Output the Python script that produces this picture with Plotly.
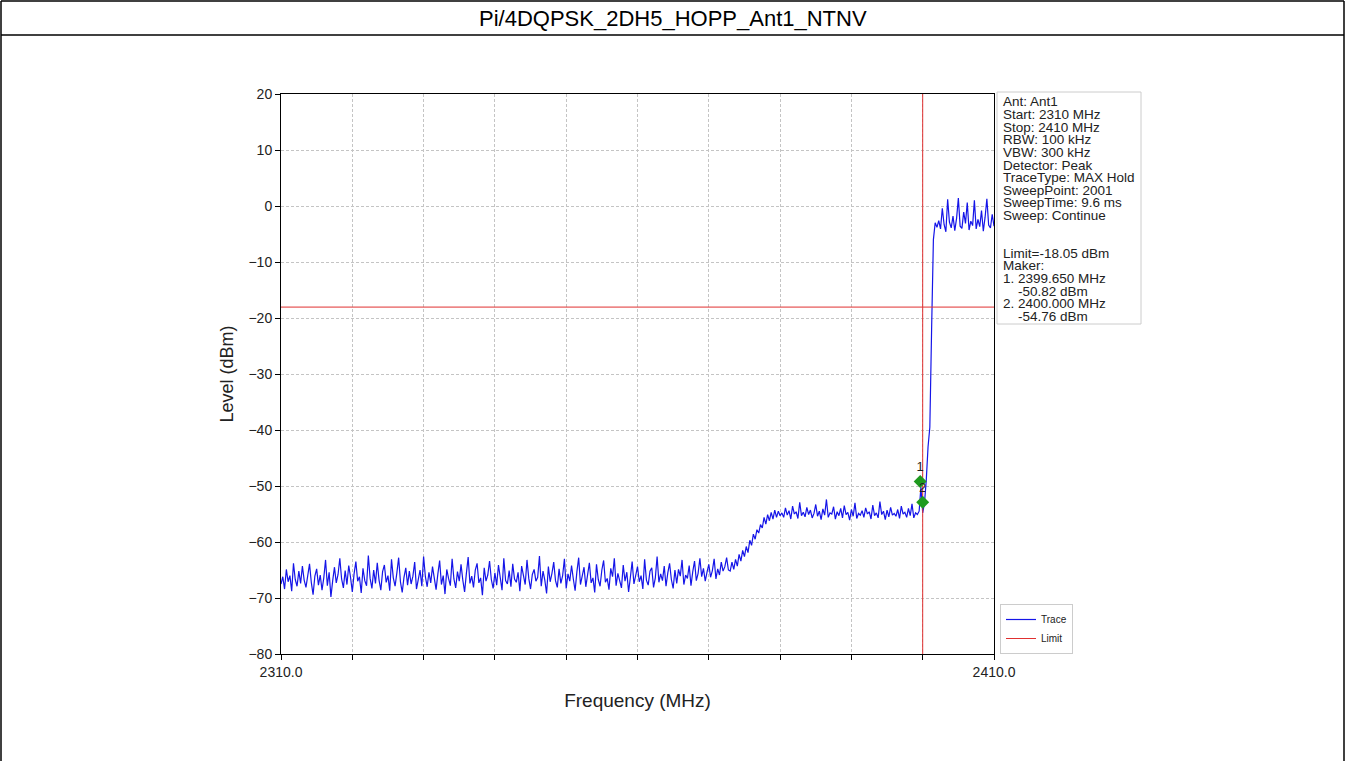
import numpy as np
import plotly.graph_objects as go

# ---------------- data ----------------
title_text = "Pi/4DQPSK_2DH5_HOPP_Ant1_NTNV"
f_start, f_stop = 2310.0, 2410.0
limit_dbm = -18.05
edge_freq = 2400.0

# segment A: 2310.00 - 2372.75 MHz (noise floor)
seg_a_level = [
    -67.5, -66.2, -68.4, -64.9, -67.1, -66.0, -68.8, -63.8, -66.7, -67.9, -65.2, -67.4,
    -64.3, -66.8, -68.1, -65.6, -63.9, -67.2, -69.4, -66.1, -64.8, -67.7, -65.9, -68.6,
    -66.4, -63.2, -67.8, -65.4, -69.8, -66.9, -64.5, -67.3, -65.8, -62.9, -66.6, -68.2,
    -65.1, -67.6, -64.2, -66.3, -68.9, -65.7, -63.5, -67.0, -66.2, -69.1, -64.7, -66.9,
    -67.8, -62.4, -66.5, -68.3, -65.0, -67.4, -63.7, -66.8, -68.6, -65.3, -64.1, -67.2,
    -66.0, -68.7, -63.1, -66.4, -67.9, -65.5, -62.8, -67.1, -69.0, -66.3, -64.6, -67.7,
    -65.2, -67.5, -66.1, -63.6, -68.4, -66.7, -65.0, -67.9, -62.6, -66.2, -68.0, -65.4,
    -67.3, -64.4, -66.9, -68.5, -65.7, -63.3, -67.6, -66.0, -69.3, -64.9, -66.5, -67.8,
    -63.0, -66.6, -68.2, -65.3, -67.0, -64.0, -66.8, -68.9, -65.6, -62.7, -67.4, -66.1,
    -68.1, -65.0, -63.8, -67.3, -66.4, -69.5, -64.6, -67.0, -65.9, -63.4, -66.7, -68.3,
    -65.5, -67.7, -64.1, -66.2, -68.6, -62.9, -66.9, -67.5, -65.1, -68.0, -63.9, -66.6,
    -67.2, -65.4, -68.8, -64.3, -66.0, -67.6, -63.2, -66.5, -68.4, -65.8, -64.9, -67.0,
    -66.3, -62.5, -67.9, -65.2, -66.8, -69.2, -64.4, -67.1, -65.6, -63.6, -66.9, -68.1,
    -64.8, -67.4, -66.0, -63.0, -68.3, -65.7, -67.0, -64.2, -66.6, -68.7, -65.3, -62.8,
    -67.6, -66.1, -64.5, -68.0, -65.9, -63.7, -67.3, -66.4, -69.0, -64.0, -66.7, -67.9,
    -65.0, -63.3, -67.2, -66.5, -68.5, -64.7, -66.2, -62.9, -67.8, -65.6, -66.9, -68.2,
    -64.1, -67.0, -65.4, -68.9, -66.3, -63.5, -67.5, -65.8, -64.4, -67.1, -66.0, -68.4,
    -63.1, -66.8, -67.7, -65.2, -64.6, -68.1, -66.4, -62.6, -67.2, -65.7, -66.9, -64.3,
    -67.9, -65.5, -63.8, -66.7, -68.3, -65.0, -67.4, -64.9, -66.1, -63.2, -67.6, -65.9,
    -66.5, -64.2, -67.8, -65.3, -63.4, -66.9, -65.6, -62.9, -66.2, -64.7, -67.0, -65.4,
    -64.0, -66.3, -65.1, -63.0, -66.6, -64.8, -65.9, -63.6, -65.2, -64.4, -62.8, -65.0,
]
# segment B: 2373.00 - 2380.00 MHz (rise)
seg_b_level = [
    -65.2, -63.6, -64.9, -63.1, -64.3, -62.2, -63.4, -61.5, -62.6, -60.8, -61.9, -59.7,
    -60.6, -58.6, -59.5, -57.8, -58.4, -56.9, -57.5, -55.6, -56.8, -55.1, -56.2, -54.7,
    -55.9, -54.3, -55.6, -54.5, -55.3,
]
# segment C: 2380.25 - 2399.75 MHz (plateau)
seg_c_level = [
    -54.8, -55.6, -53.9, -55.2, -54.4, -55.9, -53.6, -55.0, -54.6, -55.8, -52.9, -55.3, -54.7, -55.5, -53.8, -55.1,
    -54.3, -55.7, -54.9, -53.3, -55.4, -54.5, -56.0, -54.1, -55.2, -52.4, -55.6, -54.8, -55.0, -53.7, -55.9, -54.6,
    -55.3, -54.0, -55.7, -53.5, -55.1, -54.7, -56.1, -54.2, -55.4, -53.0, -55.8, -54.9, -55.2, -54.4, -55.6, -53.9,
    -55.0, -54.6, -55.9, -53.4, -55.3, -54.8, -55.7, -52.8, -55.1, -54.5, -56.0, -54.3, -55.5, -53.8, -55.2, -54.9,
    -55.4, -54.2, -55.8, -53.6, -55.0, -54.7, -55.6, -54.0, -55.3, -53.2, -55.7, -54.8, -55.1, -54.5, -50.2,
]
# segment E: 2400.00 - 2401.75 MHz (band edge)
seg_e_level = [-54.8, -53.0, -49.0, -43.0, -39.5, -22.0, -6.0, -3.0]
# segment D: 2402.00 - 2410.00 MHz (in-band)
seg_d_level = [
    -3.8, -2.6, -4.1, -0.4, -3.3, -4.6, 1.2, -2.9, -3.9, -1.8, -4.4, -2.2, 1.4, -3.6, -4.0, -1.1,
    -3.1, 0.6, -4.3, -2.7, -3.5, 1.0, -4.1, -2.4, -3.7, -0.8, -4.5, -2.0, 1.3, -3.4, -3.9, -1.5, -3.6,
]
seg_ranges = [(2310.0, 2372.75), (2373.0, 2380.0), (2380.25, 2399.75), (2400.0, 2401.75), (2402.0, 2410.0)]

marker_freq = [2399.65, 2400.0]
marker_level = [-49.2, -52.9]
marker_labels = ["1", "2"]

y_ticks = list(range(-80, 21, 10))
x_ticks = list(range(2310, 2411, 10))
x_ticktext = ["2310.0"] + [""] * 9 + ["2410.0"]

info_lines = [
    "Ant: Ant1", "Start: 2310 MHz", "Stop: 2410 MHz", "RBW: 100 kHz", "VBW: 300 kHz",
    "Detector: Peak", "TraceType: MAX Hold", "SweepPoint: 2001", "SweepTime: 9.6 ms",
    "Sweep: Continue", "", "", "Limit=-18.05 dBm", "Maker:", "1. 2399.650 MHz",
    "    -50.82 dBm", "2. 2400.000 MHz", "    -54.76 dBm",
]

# ---------------- build trace ----------------
segs = [seg_a_level, seg_b_level, seg_c_level, seg_e_level, seg_d_level]
freq, level = [], []
for (a, b), s in zip(seg_ranges, segs):
    freq.extend(np.linspace(a, b, len(s)).tolist())
    level.extend(s)

W, H = 1346, 761
L, R, T, B = 281, 994, 94, 654
def px(x):
    return (x - L) / (R - L)
def py(y):
    return (B - y) / (B - T)

FONT = "Liberation Sans, Arial, Helvetica, sans-serif"
GRID = dict(showgrid=True, gridcolor="#c4c4c4", griddash="3px,2px", gridwidth=1)

fig = go.Figure()
fig.add_trace(go.Scatter(x=freq, y=level, mode="lines", name="Trace",
                         line=dict(color="#1515e8", width=1.2)))
fig.add_trace(go.Scatter(x=[f_start, f_stop, None, edge_freq, edge_freq],
                         y=[limit_dbm, limit_dbm, None, -80, 20],
                         mode="lines", name="Limit", line=dict(color="#e03030", width=1)))
fig.add_trace(go.Scatter(x=marker_freq, y=marker_level, mode="markers+text",
                         text=marker_labels, textposition="top center",
                         textfont=dict(family=FONT, size=13, color="#222"),
                         marker=dict(symbol="diamond", size=10, color="#1f9a1f"),
                         showlegend=False))

shapes = [
    # page border and title separator
    dict(type="line", xref="paper", yref="paper", x0=px(1), x1=px(1344), y0=py(1), y1=py(1),
         line=dict(color="black", width=1.5)),
    dict(type="line", xref="paper", yref="paper", x0=px(1), x1=px(1), y0=py(1), y1=py(761),
         line=dict(color="black", width=1.5)),
    dict(type="line", xref="paper", yref="paper", x0=px(1344), x1=px(1344), y0=py(1), y1=py(761),
         line=dict(color="black", width=1.5)),
    dict(type="line", xref="paper", yref="paper", x0=px(1), x1=px(1344), y0=py(35), y1=py(35),
         line=dict(color="black", width=1.5)),
    # info box
    dict(type="rect", xref="paper", yref="paper", x0=px(997), x1=px(1141), y0=py(324), y1=py(92),
         line=dict(color="#cccccc", width=1), fillcolor="white", layer="below"),
]

annotations = [
    dict(text=title_text, xref="paper", yref="paper", x=px(673), y=py(18),
         xanchor="center", yanchor="middle", showarrow=False,
         font=dict(family=FONT, size=22, color="black")),
]
for k, line in enumerate(info_lines):
    if not line:
        continue
    annotations.append(dict(text=line.replace(" ", "&nbsp;") if line.startswith(" ") else line,
                            xref="paper", yref="paper", x=px(1001), y=py(102 + 12.6 * k),
                            xanchor="left", yanchor="middle", showarrow=False,
                            font=dict(family=FONT, size=13.5, color="#222")))

fig.update_layout(
    width=W, height=H, autosize=False,
    margin=dict(l=L, r=W - R, t=T, b=H - B, pad=0),
    paper_bgcolor="white", plot_bgcolor="white",
    font=dict(family=FONT, color="#222"),
    shapes=shapes, annotations=annotations,
    showlegend=True,
    legend=dict(x=px(1000), y=0, xanchor="left", yanchor="bottom",
                bgcolor="white", bordercolor="#cccccc", borderwidth=1,
                font=dict(family=FONT, size=10, color="#222"), itemwidth=30,
                tracegroupgap=0),
)
fig.update_xaxes(range=[f_start, f_stop], tickvals=x_ticks, ticktext=x_ticktext,
                 ticks="outside", ticklen=5, tickcolor="black", showline=True,
                 linecolor="black", linewidth=1, mirror=True, zeroline=False,
                 tickfont=dict(family=FONT, size=14, color="#222"),
                 title=dict(text="Frequency (MHz)", standoff=14,
                            font=dict(family=FONT, size=19, color="#222")),
                 **GRID)
fig.update_yaxes(range=[-80, 20], tickvals=y_ticks,
                 ticks="outside", ticklen=5, tickcolor="black", showline=True,
                 linecolor="black", linewidth=1, mirror=True, zeroline=False,
                 tickfont=dict(family=FONT, size=14, color="#222"),
                 title=dict(text="Level (dBm)", standoff=10,
                            font=dict(family=FONT, size=18, color="#222")),
                 **GRID)

fig.write_html("out.html", config={"displayModeBar": False},
               post_script="document.body.style.margin='0px';")
